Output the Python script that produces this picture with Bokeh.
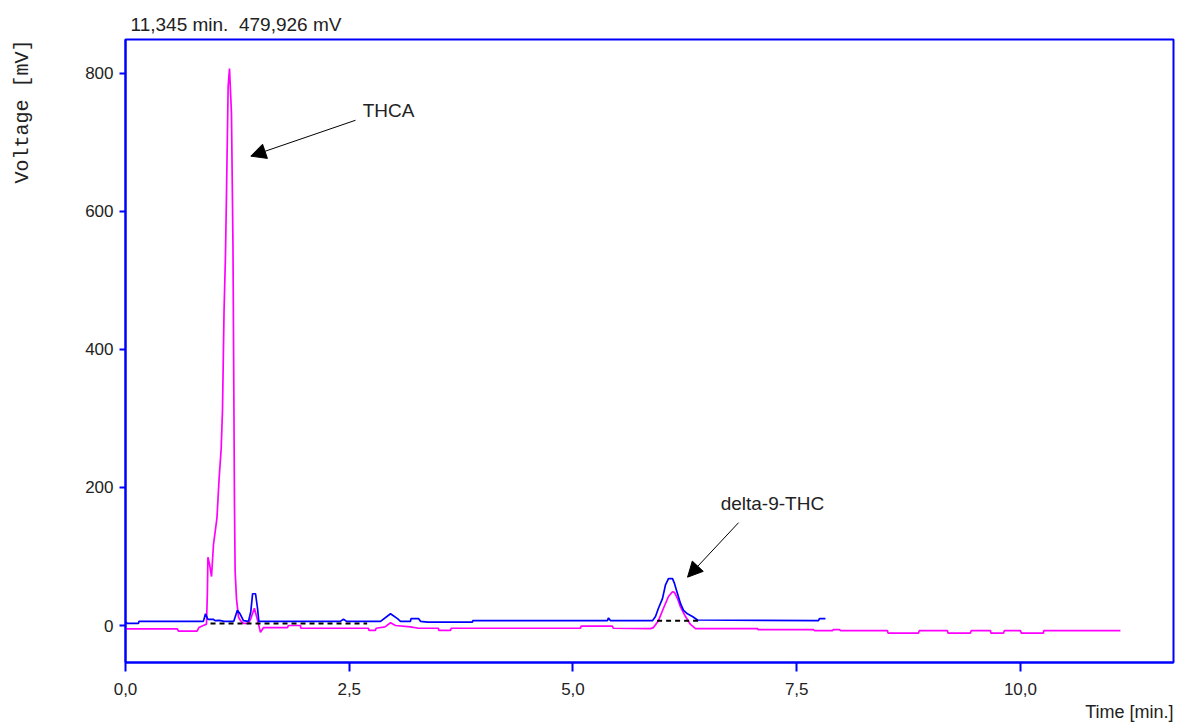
from bokeh.plotting import figure
from bokeh.models import (Range1d, FixedTicker, CustomJSTickFormatter, Label,
                          Arrow, NormalHead, Title)
from bokeh.embed import file_html
from bokeh.resources import INLINE

# ---- data (time in min, voltage in mV) ----
mag_t = [0.0, 0.58, 0.59, 0.80, 0.82, 0.87, 0.905, 0.915, 0.921, 0.94, 0.961,
         0.983, 1.006, 1.022, 1.046, 1.069, 1.084, 1.101, 1.117, 1.128, 1.147,
         1.162, 1.184, 1.201, 1.218, 1.225, 1.240, 1.263, 1.285, 1.318, 1.374,
         1.40, 1.44, 1.475, 1.508, 1.542, 1.81, 1.82, 1.955, 1.96, 2.715, 2.72,
         2.793, 2.80, 2.90, 2.961, 3.017, 3.184, 3.274, 3.497, 3.50, 3.631,
         3.64, 5.084, 5.09, 5.441, 5.45, 5.866, 5.899, 5.955, 6.011, 6.067,
         6.112, 6.134, 6.168, 6.201, 6.257, 6.313, 6.369, 7.061, 7.07, 7.687,
         7.70, 7.899, 7.91, 7.978, 7.99, 8.514, 8.52, 8.860, 8.87, 9.184, 9.19,
         9.441, 9.45, 9.665, 9.67, 9.810, 9.82, 10.0, 10.01, 10.257, 10.26,
         11.117]
mag_v = [-5, -5, -8, -8, -3, 0, 2, 48, 99, 88, 71,
         117, 140, 156, 213, 256, 313, 455, 536, 622, 781,
         807, 742, 549, 171, 79, 39, 12, 7, 3, 3,
         10, 25, 8, -10, -3, -3, 0, 0, -4, -4, -7,
         -7, -4, -2, 4, 0, -2, -4, -4, -7, -7,
         -4, -4, -1, -1, -4, -4.5, -3, 7, 25, 42,
         49, 48, 39, 27, 13, 1.5, -4.5, -4.5, -6, -6,
         -7.5, -7.5, -6, -6, -7.5, -7.5, -11, -11, -7.5, -7.5, -11,
         -11, -7.5, -7.5, -11, -11, -7.5, -7.5, -11, -11, -7.5,
         -7.5]

blue_t = [0.0, 0.022, 0.145, 0.15, 0.87, 0.894, 0.92, 0.98, 1.0, 1.05, 1.10,
          1.21, 1.25, 1.28, 1.318, 1.374, 1.40, 1.42, 1.453, 1.475, 1.49,
          2.40, 2.436, 2.47, 2.85, 2.961, 3.039, 3.073, 3.184, 3.19, 3.274,
          3.296, 3.374, 3.877, 3.88, 5.385, 5.397, 5.42, 5.888, 5.922, 5.955,
          6.0, 6.034, 6.067, 6.112, 6.134, 6.168, 6.201, 6.235, 6.279, 6.335,
          6.391, 7.743, 7.754, 7.821]
blue_v = [5, 3, 3, 6, 6, 17, 9, 9, 7, 7.5, 6,
          6, 22, 17, 7, 6, 20, 46, 46, 25, 6,
          6, 9, 6, 6, 17, 10, 6, 6, 10, 10,
          6, 5, 5, 7, 7, 11, 7, 7, 13, 25,
          39, 59, 68, 68, 61, 46, 32, 22, 17, 13,
          8, 7, 10, 10]

base1_t = [0.95, 2.70]
base1_v = [3, 3]
base2_t = [5.94, 6.40]
base2_v = [7, 7]

x_ticks = [0, 2.5, 5.0, 7.5, 10.0]
y_ticks = [0, 200, 400, 600, 800]

header_text = "11,345 min.\u00a0\u00a0479,926 mV"
x_label = "Time [min.]"
y_label = "Voltage [mV]"

# ---- figure ----
FONT = "Liberation Sans"
BLUE = "#0000ff"
TXT = "#222222"

p = figure(width=1180, height=728, output_backend="svg", toolbar_location=None,
           x_range=Range1d(0, 11.71), y_range=Range1d(-53.6, 849),
           min_border_left=125, min_border_right=7, min_border_top=39,
           min_border_bottom=66)
p.background_fill_color = "white"
p.border_fill_color = "white"
p.outline_line_color = BLUE
p.outline_line_width = 2
p.grid.visible = False

for ax in (p.xaxis, p.yaxis):
    ax.axis_line_color = BLUE
    ax.axis_line_width = 2
    ax.major_tick_line_color = BLUE
    ax.major_tick_line_width = 2
    ax.major_tick_in = 0
    ax.minor_tick_line_color = None
    ax.major_label_text_font = FONT
    ax.major_label_text_font_size = "17px"
    ax.major_label_text_color = TXT

p.xaxis.ticker = FixedTicker(ticks=x_ticks)
p.xaxis.formatter = CustomJSTickFormatter(code="return tick.toFixed(1).replace('.', ',');")
p.xaxis.major_tick_out = 9
p.xaxis.major_label_standoff = 11

p.yaxis.ticker = FixedTicker(ticks=y_ticks)
p.yaxis.major_tick_out = 6
p.yaxis.major_label_standoff = 6
# blank spacer label keeps the y title out at the page's left edge
p.yaxis.axis_label = "\u00a0"
p.yaxis.axis_label_text_font_size = "10px"
p.yaxis.axis_label_standoff = 35

# ---- texts outside the frame ----
p.add_layout(Title(text=header_text, align="left", offset=5, standoff=9,
                   text_font=FONT, text_font_size="19px",
                   text_font_style="normal", text_color=TXT), "above")
p.add_layout(Title(text=x_label, align="right", standoff=5,
                   text_font=FONT, text_font_size="18px",
                   text_font_style="normal", text_color=TXT), "below")
p.add_layout(Title(text=y_label, align="right", standoff=0,
                   text_font="Liberation Mono", text_font_size="20px",
                   text_font_style="normal", text_color=TXT), "left")

# ---- traces ----
p.line(mag_t, mag_v, line_color="#ff00ff", line_width=1.7)
p.line(blue_t, blue_v, line_color=BLUE, line_width=1.7)
p.line(base1_t, base1_v, line_color="black", line_width=2, line_dash="5 4")
p.line(base2_t, base2_v, line_color="black", line_width=2, line_dash="5 4")

# ---- annotations ----
p.add_layout(Arrow(end=NormalHead(size=15, fill_color="black", line_color="black"),
                   x_start=2.57, y_start=732, x_end=1.40, y_end=680,
                   line_color="black", line_width=1))
p.add_layout(Label(x=2.65, y=746, text="THCA", text_font=FONT,
                   text_font_size="19px", text_color=TXT,
                   text_baseline="middle"))
p.add_layout(Arrow(end=NormalHead(size=15, fill_color="black", line_color="black"),
                   x_start=6.85, y_start=149, x_end=6.28, y_end=70,
                   line_color="black", line_width=1))
p.add_layout(Label(x=6.65, y=177, text="delta-9-THC", text_font=FONT,
                   text_font_size="19px", text_color=TXT,
                   text_baseline="middle"))

open("out.html", "w").write(file_html(p, INLINE))
